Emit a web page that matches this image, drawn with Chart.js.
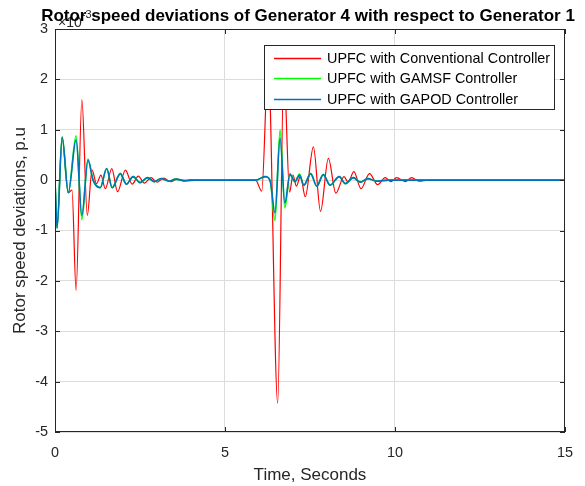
<!DOCTYPE html>
<html>
<head>
<meta charset="utf-8">
<title>Rotor speed deviations</title>
<script src="https://cdn.jsdelivr.net/npm/chart.js@4"></script>
<style>
  html, body { margin: 0; padding: 0; background: #ffffff; }
  canvas { display: block; }
</style>
</head>
<body>
<canvas id="speedChart" width="585" height="486"></canvas>
<script>
// Values are in units of 1e-3 p.u. (the axis carries the x10^-3 exponent)

// UPFC with Conventional Controller
const convTime = [0, 0.06, 0.21, 0.39, 0.5, 0.62, 0.79, 0.95, 1.09, 1.22, 1.35, 1.48, 1.67, 1.84, 2.07, 2.27, 2.45, 2.63, 2.82, 3.0, 3.2, 3.4, 3.6, 3.8, 4.0, 4.3,
                  5.9, 6.08, 6.27, 6.55, 6.73, 6.9, 7.0, 7.1, 7.22, 7.36, 7.6, 7.81, 8.04, 8.26, 8.5, 8.62, 8.79, 9.0, 9.25, 9.49, 9.71, 9.88, 10.05, 10.3, 10.49, 10.7, 11.0, 15];
const convValues = [0, -0.95, 0.85, -0.25, -0.2, -2.19, 1.6, -0.7, 0.2, -0.07, 0.1, -0.17, 0.23, -0.23, 0.2, -0.08, 0.08, -0.06, 0.05, -0.04, 0.04, -0.03, 0.02, -0.02, 0.01, 0,
                    0, -0.22, 2.3, -4.43, 2.2, -0.24, 0.1, -0.12, 0.08, -0.33, 0.66, -0.62, 0.43, -0.26, 0.07, -0.04, 0.17, -0.17, 0.13, -0.09, 0.05, -0.03, 0.05, -0.03, 0.05, -0.02, 0, 0];

// UPFC with GAMSF Controller
const gamsfTime = [0, 0.06, 0.21, 0.39, 0.62, 0.79, 0.97, 1.12, 1.33, 1.52, 1.68, 1.92, 2.1, 2.3, 2.5, 2.72, 2.92, 3.12, 3.35, 3.55, 3.8, 4.1,
                   5.9, 6.18, 6.33, 6.47, 6.62, 6.76, 6.91, 7.06, 7.19, 7.32, 7.52, 7.7, 7.89, 8.09, 8.36, 8.54, 8.77, 8.98, 9.2, 9.45, 9.8, 15];
const gamsfValues = [0, -0.95, 0.86, -0.25, 0.88, -0.78, 0.42, 0.0, -0.15, 0.23, -0.15, 0.13, -0.08, 0.07, -0.05, 0.05, -0.03, 0.03, -0.02, 0.02, -0.01, 0,
                     0, 0.07, -0.02, -0.8, 1.0, -0.55, 0.13, -0.03, 0.12, -0.1, 0.13, -0.12, 0.11, -0.1, 0.07, -0.07, 0.05, -0.04, 0.03, -0.02, 0, 0];

// UPFC with GAPOD Controller
const gapodTime = [0, 0.06, 0.21, 0.39, 0.62, 0.79, 0.97, 1.12, 1.33, 1.52, 1.68, 1.92, 2.1, 2.3, 2.5, 2.72, 2.92, 3.12, 3.35, 3.55, 3.8, 4.1,
                   5.9, 6.18, 6.33, 6.47, 6.62, 6.76, 6.91, 7.06, 7.19, 7.32, 7.52, 7.7, 7.89, 8.09, 8.36, 8.54, 8.77, 8.98, 9.2, 9.45, 9.8, 15];
const gapodValues = [0, -0.95, 0.85, -0.25, 0.8, -0.7, 0.4, 0.0, -0.15, 0.23, -0.15, 0.13, -0.08, 0.07, -0.05, 0.05, -0.03, 0.03, -0.02, 0.02, -0.01, 0,
                     0, 0.07, -0.02, -0.65, 0.83, -0.46, 0.11, -0.03, 0.1, -0.1, 0.13, -0.12, 0.11, -0.1, 0.07, -0.07, 0.05, -0.04, 0.03, -0.02, 0, 0];

const seriesLabels = ['UPFC with Conventional Controller', 'UPFC with GAMSF Controller', 'UPFC with GAPOD Controller'];
const xTicks = [0, 5, 10, 15];
const yTicks = [-5, -4, -3, -2, -1, 0, 1, 2, 3];

const FONT = '"Liberation Sans", Arial, Helvetica, sans-serif';
const AXIS_COLOR = '#262626';

function toPoints(times, values) {
    return times.map((t, i) => ({ x: t, y: values[i] }));
}

/**
 * Box around the axes, inward tick marks, title, exponent and legend (MATLAB look)
 */
const matlabFrame = {
    id: 'matlabFrame',
    afterDatasetsDraw(chart) {
        const { ctx, chartArea: a, scales: { x, y } } = chart;
        ctx.save();
        ctx.strokeStyle = AXIS_COLOR;
        ctx.lineWidth = 1;
        ctx.strokeRect(a.left + 0.5, a.top + 0.5, a.right - a.left - 1, a.bottom - a.top - 1);

        ctx.beginPath();
        x.ticks.forEach(t => {
            const px = Math.round(x.getPixelForValue(t.value)) + 0.5;
            ctx.moveTo(px, a.bottom); ctx.lineTo(px, a.bottom - 5);
            ctx.moveTo(px, a.top); ctx.lineTo(px, a.top + 5);
        });
        y.ticks.forEach(t => {
            const py = Math.round(y.getPixelForValue(t.value)) + 0.5;
            ctx.moveTo(a.left, py); ctx.lineTo(a.left + 5, py);
            ctx.moveTo(a.right, py); ctx.lineTo(a.right - 5, py);
        });
        ctx.stroke();
        ctx.restore();
    },
    afterDraw(chart) {
        const { ctx, chartArea: a } = chart;
        ctx.save();

        // exponent of the y axis
        ctx.fillStyle = AXIS_COLOR;
        ctx.textBaseline = 'alphabetic';
        ctx.textAlign = 'left';
        ctx.font = '14px ' + FONT;
        ctx.fillText('\u00d710', a.left + 3, a.top - 2);
        const w = ctx.measureText('\u00d710').width;
        ctx.font = '11px ' + FONT;
        ctx.fillText('-3', a.left + 3 + w, a.top - 11);

        // title
        ctx.fillStyle = '#000000';
        ctx.font = 'bold 17px ' + FONT;
        ctx.textAlign = 'center';
        ctx.fillText('Rotor speed deviations of Generator 4 with respect to Generator 1', (a.left + a.right) / 2 - 2, 21);

        // legend
        const boxRight = a.right - 10;
        const boxLeft = boxRight - 291;
        const boxTop = a.top + 16;
        const boxH = 65;
        ctx.fillStyle = '#ffffff';
        ctx.fillRect(boxLeft, boxTop, boxRight - boxLeft, boxH);
        ctx.strokeStyle = AXIS_COLOR;
        ctx.lineWidth = 1;
        ctx.strokeRect(boxLeft + 0.5, boxTop + 0.5, boxRight - boxLeft - 1, boxH - 1);
        ctx.font = '14.4px ' + FONT;
        ctx.textAlign = 'left';
        ctx.textBaseline = 'middle';
        chart.data.datasets.forEach((ds, i) => {
            const rowY = boxTop + 13 + i * 20.4;
            ctx.strokeStyle = ds.borderColor;
            ctx.lineWidth = 1.3;
            ctx.beginPath();
            ctx.moveTo(boxLeft + 10, Math.round(rowY) + 0.5);
            ctx.lineTo(boxLeft + 57, Math.round(rowY) + 0.5);
            ctx.stroke();
            ctx.fillStyle = '#000000';
            ctx.fillText(ds.label, boxLeft + 63, rowY + 1);
        });
        ctx.restore();
    }
};

const ctx = document.getElementById('speedChart').getContext('2d');
new Chart(ctx, {
    type: 'line',
    data: {
        datasets: [{
            label: seriesLabels[0],
            data: toPoints(convTime, convValues),
            borderColor: '#ff0000',
            borderWidth: 1.2,
            order: 3
        }, {
            label: seriesLabels[1],
            data: toPoints(gamsfTime, gamsfValues),
            borderColor: '#00ff00',
            borderWidth: 1.6,
            order: 2
        }, {
            label: seriesLabels[2],
            data: toPoints(gapodTime, gapodValues),
            borderColor: '#0072bd',
            borderWidth: 1.6,
            order: 1
        }]
    },
    options: {
        responsive: false,
        animation: false,
        devicePixelRatio: 1,
        elements: {
            point: { radius: 0, hoverRadius: 0 },
            line: { cubicInterpolationMode: 'monotone', fill: false }
        },
        layout: { padding: { top: 29, right: 20, left: 0, bottom: 0 } },
        plugins: {
            legend: { display: false },
            tooltip: { enabled: false },
            title: { display: false }
        },
        scales: {
            x: {
                type: 'linear',
                min: 0,
                max: 15,
                afterBuildTicks: scale => { scale.ticks = xTicks.map(v => ({ value: v })); },
                afterFit: scale => { scale.height = 54; },
                grid: { color: '#dcdcdc', lineWidth: 1, drawTicks: false },
                border: { display: false },
                ticks: { color: AXIS_COLOR, padding: 12, font: { family: FONT, size: 14.4 }, maxRotation: 0 },
                title: {
                    display: true,
                    text: 'Time, Seconds',
                    color: AXIS_COLOR,
                    font: { family: FONT, size: 17 },
                    padding: { top: 0, bottom: 0 }
                }
            },
            y: {
                type: 'linear',
                min: -5,
                max: 3,
                afterBuildTicks: scale => { scale.ticks = yTicks.map(v => ({ value: v })); },
                afterFit: scale => { scale.width = 55; },
                grid: { color: '#dcdcdc', lineWidth: 1, drawTicks: false },
                border: { display: false },
                ticks: { color: AXIS_COLOR, padding: 7, font: { family: FONT, size: 14.4 } },
                title: {
                    display: true,
                    text: 'Rotor speed deviations, p.u',
                    color: AXIS_COLOR,
                    font: { family: FONT, size: 17 },
                    padding: { top: 10, bottom: 0 }
                }
            }
        }
    },
    plugins: [matlabFrame]
});
</script>
</body>
</html>
